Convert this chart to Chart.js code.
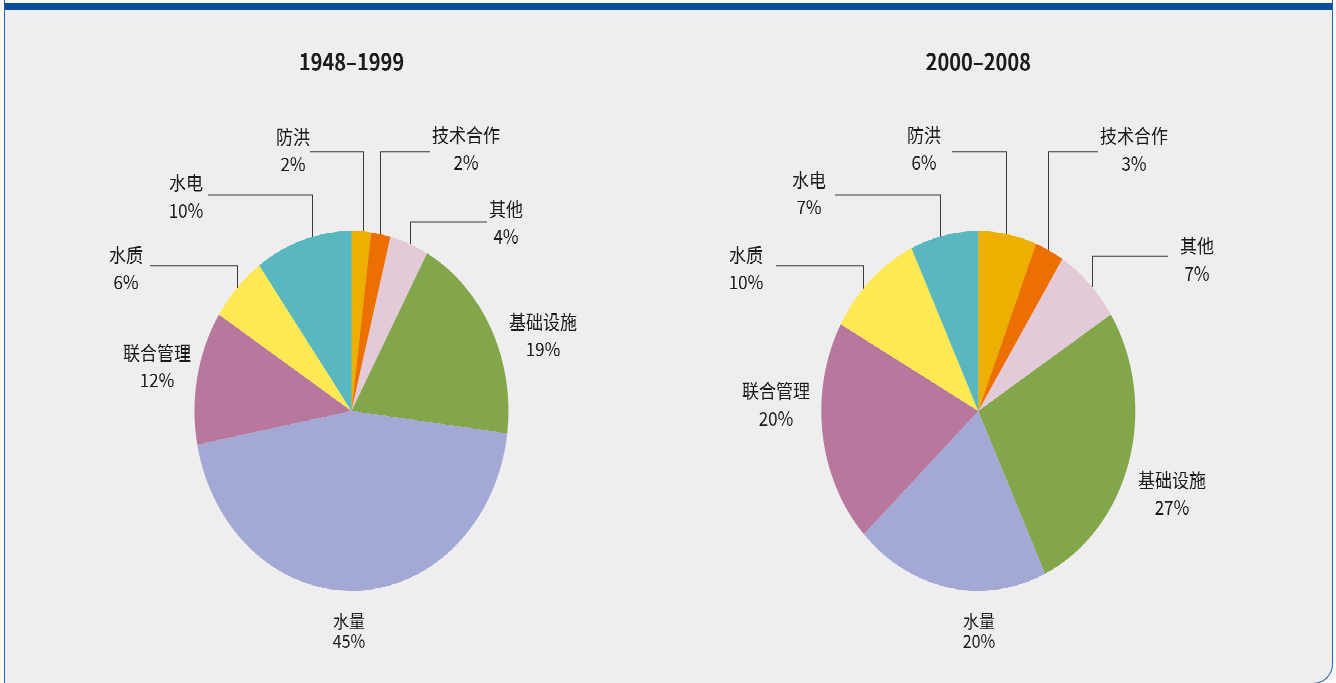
<!DOCTYPE html>
<html>
<head>
<meta charset="utf-8">
<script src="https://cdn.jsdelivr.net/npm/chart.js@4.4.0/dist/chart.umd.min.js"></script>
<style>
  html, body { margin: 0; padding: 0; width: 1336px; height: 683px; overflow: hidden; background: #fbfbfb; }
  #panel {
    position: absolute; left: 4px; top: 3px; width: 1327px; height: 673px;
    background: #eeeeee; border: 1px solid #2b63b6; border-top: 7px solid #0b4c9c;
    border-bottom-right-radius: 20px;
  }
  .edge { position: absolute; top: 0; width: 1px; height: 3px; background: #2b63b6; }
  #stage {
    position: absolute; left: 0; top: 0; width: 1336px; height: 596px;
    transform: scaleY(1.146); transform-origin: 0 0;
  }
  #stage canvas { position: absolute; left: 0; top: 0; }
</style>
</head>
<body>
<div id="panel"></div>
<div class="edge" style="left:4px"></div>
<div class="edge" style="left:1332px"></div>
<div id="stage">
  <canvas id="pieA" width="1336" height="596"></canvas>
  <canvas id="pieB" width="1336" height="596"></canvas>
</div>
<script>
// Funding by sector, percent of total
const categories = ['防洪', '技术合作', '其他', '基础设施', '水量', '联合管理', '水质', '水电'];
const values1948 = [2, 2, 4, 19, 45, 12, 6, 10];
const values2000 = [6, 3, 7, 27, 20, 20, 10, 7];
const sliceColors = ['#EDB000', '#EC7000', '#E2CAD8', '#84A64A', '#A4A8D4', '#B8779C', '#FEE854', '#58B7BF'];
const periodTitles = ['1948–1999', '2000–2008'];

// Label placement: text centre, optional leader (elbow height, end of the horizontal run,
// and where along the slice arc the leader starts)
const labelsA = [
  { x: 293,  y: 119.5, hx: 310, ey: 132.6, t: 0.58 },
  { x: 466,  y: 117.8, hx: 430, ey: 132.6, t: 0.45 },
  { x: 506,  y: 182.4, hx: 487, ey: 193.7, t: 0.52 },
  { x: 543,  y: 281.0 },
  { x: 349,  y: 541.9, small: true },
  { x: 157,  y: 308.0 },
  { x: 126,  y: 222.5, hx: 150, ey: 232.1, t: 0.50 },
  { x: 186,  y: 159.7, hx: 208, ey: 170.2, t: 0.60 }
];
const labelsB = [
  { x: 924,  y: 117.8, hx: 952,  ey: 132.6, t: 0.47 },
  { x: 1134, y: 118.7, hx: 1098, ey: 132.6, t: 0.44 },
  { x: 1197, y: 214.7, hx: 1168, ey: 223.4, t: 0.56 },
  { x: 1172, y: 418.8 },
  { x: 979,  y: 541.9, small: true },
  { x: 776,  y: 341.2 },
  { x: 746,  y: 222.5, hx: 776, ey: 232.1, t: 0.39 },
  { x: 809,  y: 157.1, hx: 835, ey: 170.2, t: 0.44 }
];

const FONT = '"Noto Sans CJK SC", "Noto Sans", sans-serif';
Chart.defaults.font.family = FONT;

const sliceLabels = {
  id: 'sliceLabels',
  afterDraw(chart, args, opts) {
    const ctx = chart.ctx;
    const meta = chart.getDatasetMeta(0);
    const values = chart.data.datasets[0].data;
    ctx.save();
    ctx.textAlign = 'center';
    ctx.textBaseline = 'middle';
    ctx.fillStyle = '#1b1b1b';
    meta.data.forEach((arc, i) => {
      const L = opts.items[i];
      const p = arc.getProps(['x', 'y', 'startAngle', 'endAngle', 'outerRadius'], true);
      if (L.hx !== undefined) {
        const a = p.startAngle + L.t * (p.endAngle - p.startAngle);
        const ax = Math.round(p.x + p.outerRadius * Math.cos(a)) + 0.5;
        const ay = p.y + p.outerRadius * Math.sin(a);
        ctx.beginPath();
        ctx.moveTo(ax, ay);
        ctx.lineTo(ax, L.ey);
        ctx.lineTo(L.hx, L.ey);
        ctx.strokeStyle = '#3a3a3a';
        ctx.lineWidth = 1;
        ctx.stroke();
      }
      const size = L.small ? 16 : 17;
      const gap = L.small ? 17.5 : 23.6;
      ctx.font = size + 'px ' + FONT;
      ctx.fillText(chart.data.labels[i], L.x, L.y);
      ctx.fillText(values[i] + '%', L.x, L.y + gap);
    });
    ctx.restore();
  }
};

function makePie(id, title, values, pad, items) {
  return new Chart(document.getElementById(id), {
    type: 'pie',
    data: {
      labels: categories,
      datasets: [{ data: values, backgroundColor: sliceColors, borderWidth: 0 }]
    },
    options: {
      responsive: false,
      animation: false,
      devicePixelRatio: 2,
      layout: { padding: pad },
      plugins: {
        legend: { display: false },
        tooltip: { enabled: false },
        title: {
          display: true, text: title, color: '#1b1b1b',
          font: { size: 20, weight: 'bold', family: FONT, lineHeight: 1.2 },
          padding: { top: 42, bottom: 135.6 }
        },
        sliceLabels: { items: items }
      }
    },
    plugins: [sliceLabels]
  });
}

makePie('pieA', periodTitles[0], values1948, { left: 194.5, right: 827.5, top: 0, bottom: 80.4 }, labelsA);
makePie('pieB', periodTitles[1], values2000, { left: 821.3, right: 200.7, top: 0, bottom: 80.4 }, labelsB);
</script>
</body>
</html>
